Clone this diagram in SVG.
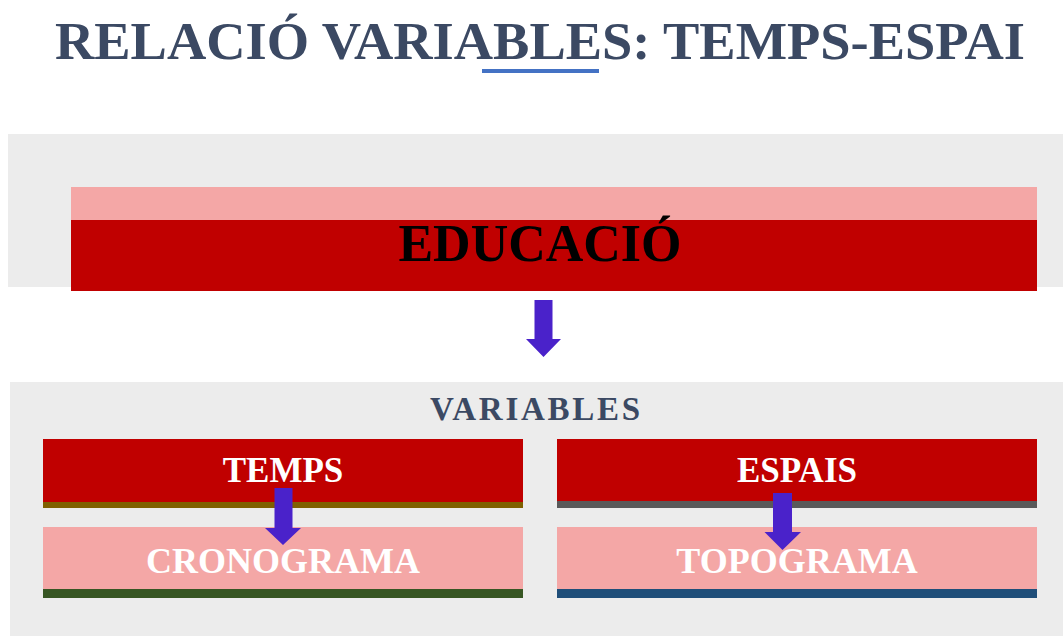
<svg xmlns="http://www.w3.org/2000/svg" width="1063" height="636" viewBox="0 0 1063 636">
<style>
.ttl{font-family:"Liberation Serif","Times New Roman",serif;font-weight:bold;fill:#3B4963;text-anchor:middle}
.lbl{font-family:"Liberation Serif","Times New Roman",serif;font-weight:bold;text-anchor:middle}
.wht{fill:#FFFFFF}
.panel{fill:#ECECEC}
.red{fill:#C00000}
.pink{fill:#F4A7A6}
.arrow{fill:#4A22CA}
</style>
<rect width="1063" height="636" fill="#FFFFFF"/>
<g id="title">
<text class="ttl" x="540" y="59" font-size="52" textLength="970" lengthAdjust="spacingAndGlyphs">RELACIÓ VARIABLES: TEMPS-ESPAI</text>
<rect x="482" y="69" width="117" height="4" fill="#4472C4"/>
</g>
<g id="panel-top">
<rect class="panel" x="8" y="134" width="1055" height="153"/>
</g>
<g id="educacio">
<rect class="pink" x="71" y="187" width="966" height="33"/>
<rect class="red" x="71" y="220" width="966" height="71"/>
<text class="lbl" x="540" y="261" font-size="52" fill="#000000">EDUCACIÓ</text>
</g>
<g id="panel-bottom">
<rect class="panel" x="10" y="382" width="1053" height="254"/>
<text class="ttl" x="535" y="420" font-size="33" textLength="210" lengthAdjust="spacing">VARIABLES</text>
</g>
<g id="temps">
<rect class="red" x="43" y="439" width="480" height="63"/>
<rect x="43" y="502" width="480" height="6" fill="#7F6000"/>
<text class="lbl wht" x="283" y="482" font-size="35">TEMPS</text>
</g>
<g id="cronograma">
<rect class="pink" x="43" y="527" width="480" height="62"/>
<rect x="43" y="589" width="480" height="9" fill="#375623"/>
<text class="lbl wht" x="283" y="573" font-size="36">CRONOGRAMA</text>
</g>
<g id="espais">
<rect class="red" x="557" y="439" width="480" height="62"/>
<rect x="557" y="501" width="480" height="7" fill="#595959"/>
<text class="lbl wht" x="797" y="482" font-size="35">ESPAIS</text>
</g>
<g id="topograma">
<rect class="pink" x="557" y="527" width="480" height="62"/>
<rect x="557" y="589" width="480" height="9" fill="#1F4E79"/>
<text class="lbl wht" x="797" y="573" font-size="36">TOPOGRAMA</text>
</g>
<g id="connectors">
<polygon class="arrow" points="534.5,300 552.5,300 552.5,339 561,339 543.5,357 526,339 534.5,339"/>
<polygon class="arrow" points="274.5,488 292.5,488 292.5,528 301,528 283,545 265,528 274.5,528"/>
<polygon class="arrow" points="773,493 792,493 792,532 801,532 782.5,550 764.5,532 773,532"/>
</g>
</svg>
